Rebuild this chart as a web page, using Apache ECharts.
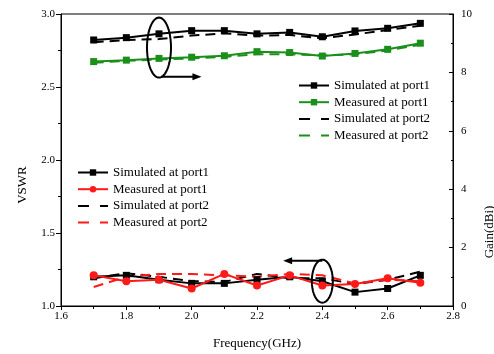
<!DOCTYPE html>
<html>
<head>
<meta charset="utf-8">
<script src="https://cdn.jsdelivr.net/npm/echarts@6/dist/echarts.min.js"></script>
<style>
  html, body { margin: 0; padding: 0; background: #fff; }
  #chart { width: 494px; height: 354px; }
</style>
</head>
<body>
<div id="chart"></div>
<script>
// Frequency points (GHz)
const frequency = [1.7, 1.8, 1.9, 2.0, 2.1, 2.2, 2.3, 2.4, 2.5, 2.6, 2.7];

// VSWR (left axis)
const vswrSimPort1  = [1.20, 1.21, 1.18, 1.155, 1.155, 1.18, 1.20, 1.17, 1.095, 1.12, 1.21];
const vswrMeasPort1 = [1.21, 1.17, 1.18, 1.12, 1.22, 1.14, 1.21, 1.14, 1.15, 1.19, 1.16];
const vswrSimPort2  = [1.19, 1.225, 1.20, 1.17, 1.165, 1.22, 1.19, 1.19, 1.15, 1.18, 1.235];
const vswrMeasPort2 = [1.13, 1.20, 1.22, 1.22, 1.21, 1.20, 1.22, 1.21, 1.155, 1.18, 1.17];

// Gain in dBi (right axis)
const gainSimPort1  = [9.11, 9.19, 9.32, 9.43, 9.43, 9.32, 9.37, 9.22, 9.42, 9.51, 9.68];
const gainMeasPort1 = [8.37, 8.42, 8.48, 8.52, 8.57, 8.71, 8.68, 8.56, 8.65, 8.79, 9.00];
const gainSimPort2  = [9.03, 9.11, 9.14, 9.26, 9.34, 9.26, 9.28, 9.17, 9.30, 9.45, 9.60];
const gainMeasPort2 = [8.33, 8.40, 8.44, 8.48, 8.53, 8.62, 8.62, 8.58, 8.62, 8.75, 8.95];

const legendLabels = ['Simulated at port1', 'Measured at port1', 'Simulated at port2', 'Measured at port2'];

const FONT = '"Liberation Serif", "DejaVu Serif", serif';
const BLACK = '#000000';
const GREEN = '#1a8f1a';
const RED = '#ff1a1a';
const DASH = [10, 6];
const LEGEND_DASH = [11, 11];

const pairs = arr => frequency.map((f, i) => [f, arr[i]]);

function lineSeries(name, data, color, axis, opts) {
  return Object.assign({
    name: name,
    type: 'line',
    yAxisIndex: axis,
    data: pairs(data),
    color: color,
    lineStyle: { color: color, width: 2 },
    itemStyle: { color: color },
    symbol: 'none',
    animation: false,
    z: 3
  }, opts || {});
}

const chart = echarts.init(document.getElementById('chart'), null, { renderer: 'canvas' });

const gainNames = legendLabels.map(l => 'Gain: ' + l);
const vswrNames = legendLabels.map(l => 'VSWR: ' + l);
const stripPrefix = n => n.replace(/^(Gain|VSWR): /, '');

// Legend entries: solid curves keep their marker, dashed curves show only the dash
function legendData(names) {
  return names.map((n, i) => i < 2 ? { name: n } : {
    name: n,
    itemStyle: { opacity: 0 },
    lineStyle: { type: LEGEND_DASH }
  });
}

const legendCommon = {
  formatter: stripPrefix,
  orient: 'vertical',
  itemWidth: 30, itemHeight: 8, itemGap: 3.7,
  textStyle: { fontFamily: FONT, fontSize: 13, color: BLACK },
  selectedMode: false
};

const option = {
  backgroundColor: '#fff',
  animation: false,
  textStyle: { fontFamily: FONT, color: BLACK },
  grid: {
    left: 61, right: 41, top: 14, bottom: 48,
    outerBoundsMode: 'none',
    containLabel: false,
    show: true, borderColor: BLACK, borderWidth: 1, backgroundColor: 'transparent'
  },
  legend: [
    Object.assign({ data: legendData(gainNames), left: 293, top: 74 }, legendCommon),
    Object.assign({ data: legendData(vswrNames), left: 72, top: 161 }, legendCommon)
  ],
  xAxis: {
    type: 'value',
    min: 1.6, max: 2.8, interval: 0.2,
    name: 'Frequency(GHz)',
    nameLocation: 'middle',
    nameGap: 31,
    nameTextStyle: { fontFamily: FONT, fontSize: 13, color: BLACK },
    axisLine: { lineStyle: { color: BLACK, width: 1 } },
    axisTick: { inside: false, length: 4, lineStyle: { color: BLACK } },
    minorTick: { show: true, splitNumber: 2, length: 3, lineStyle: { color: BLACK } },
    axisLabel: { fontFamily: FONT, fontSize: 11, color: BLACK, margin: 5, formatter: v => v.toFixed(1) },
    splitLine: { show: false }
  },
  yAxis: [
    {
      type: 'value',
      min: 1.0, max: 3.0, interval: 0.5,
      name: 'VSWR',
      nameLocation: 'middle',
      nameGap: 32,
      nameTextStyle: { fontFamily: FONT, fontSize: 13, color: BLACK, padding: [0, 50, 0, 0] },
      axisLine: { show: true, lineStyle: { color: BLACK, width: 1 } },
      axisTick: { inside: false, length: 5, lineStyle: { color: BLACK } },
      minorTick: { show: true, splitNumber: 2, length: 3, lineStyle: { color: BLACK } },
      axisLabel: { fontFamily: FONT, fontSize: 11, color: BLACK, margin: 6, formatter: v => v.toFixed(1) },
      splitLine: { show: false }
    },
    {
      type: 'value',
      min: 0, max: 10, interval: 2,
      name: 'Gain(dBi)',
      nameLocation: 'middle',
      nameGap: 23,
      nameTextStyle: { fontFamily: FONT, fontSize: 13, color: BLACK, padding: [0, 144, 0, 0] },
      position: 'right',
      axisLine: { show: true, lineStyle: { color: BLACK, width: 1 } },
      axisTick: { inside: true, length: 4, lineStyle: { color: BLACK } },
      minorTick: { show: true, splitNumber: 2, length: 2, lineStyle: { color: BLACK } },
      axisLabel: { fontFamily: FONT, fontSize: 11, color: BLACK, margin: 8 },
      splitLine: { show: false }
    }
  ],
  series: [
    lineSeries(gainNames[0], gainSimPort1, BLACK, 1, { symbol: 'rect', symbolSize: 7, z: 5 }),
    lineSeries(gainNames[1], gainMeasPort1, GREEN, 1, { symbol: 'rect', symbolSize: 7, z: 5 }),
    lineSeries(gainNames[2], gainSimPort2, BLACK, 1, { lineStyle: { color: BLACK, width: 2, type: DASH } }),
    lineSeries(gainNames[3], gainMeasPort2, GREEN, 1, { lineStyle: { color: GREEN, width: 2, type: DASH } }),
    lineSeries(vswrNames[0], vswrSimPort1, BLACK, 0, { symbol: 'rect', symbolSize: 7, z: 5 }),
    lineSeries(vswrNames[1], vswrMeasPort1, RED, 0, { symbol: 'circle', symbolSize: 8, z: 6 }),
    lineSeries(vswrNames[2], vswrSimPort2, BLACK, 0, { lineStyle: { color: BLACK, width: 2, type: DASH } }),
    lineSeries(vswrNames[3], vswrMeasPort2, RED, 0, { lineStyle: { color: RED, width: 2, type: DASH } })
  ]
};

chart.setOption(option);

// Ellipse outline as a closed polyline around a centre point (pixels)
function ellipsePoints(cx, cy, rx, ry) {
  const pts = [];
  for (let k = 0; k < 72; k++) {
    const t = (k / 72) * Math.PI * 2;
    pts.push([cx + rx * Math.cos(t), cy + ry * Math.sin(t)]);
  }
  return pts;
}

function arrow(from, to) {
  const dir = Math.sign(to[0] - from[0]);
  const head = 9, half = 3.5;
  return [
    { type: 'line', shape: { x1: from[0], y1: from[1], x2: to[0] - dir * head * 0.6, y2: to[1] },
      style: { stroke: BLACK, lineWidth: 2 }, z: 20 },
    { type: 'polygon', shape: { points: [[to[0], to[1]], [to[0] - dir * head, to[1] - half], [to[0] - dir * head, to[1] + half]] },
      style: { fill: BLACK }, z: 20 }
  ];
}

// Axis-pointing markers: the upper group reads on the right (gain) axis,
// the lower group on the left (VSWR) axis.
const topC = chart.convertToPixel({ xAxisIndex: 0, yAxisIndex: 0 }, [1.9, 2.77]);
const topArrowY = chart.convertToPixel({ yAxisIndex: 0 }, 2.57);
const topArrowEnd = chart.convertToPixel({ xAxisIndex: 0 }, 2.03);
const botC = chart.convertToPixel({ xAxisIndex: 0, yAxisIndex: 0 }, [2.4, 1.17]);
const botArrowY = chart.convertToPixel({ yAxisIndex: 0 }, 1.31);
const botArrowEnd = chart.convertToPixel({ xAxisIndex: 0 }, 2.28);

const graphics = [
  { type: 'polygon', shape: { points: ellipsePoints(topC[0], topC[1], 12, 30) },
    style: { fill: 'none', stroke: BLACK, lineWidth: 2 }, z: 20 },
  { type: 'polygon', shape: { points: ellipsePoints(botC[0], botC[1], 10.5, 21.5) },
    style: { fill: 'none', stroke: BLACK, lineWidth: 2 }, z: 20 }
].concat(
  arrow([topC[0] + 2, topArrowY], [topArrowEnd, topArrowY]),
  arrow([botC[0], botArrowY], [botArrowEnd, botArrowY])
);

chart.setOption({ graphic: graphics });
</script>
</body>
</html>
